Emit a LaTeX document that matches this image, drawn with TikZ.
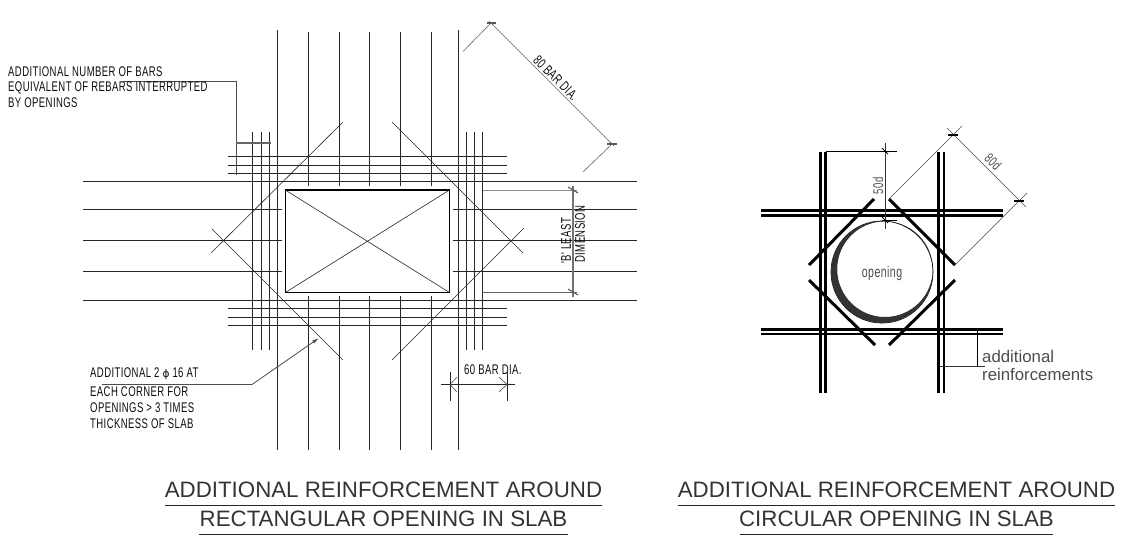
\documentclass[tikz,border=0pt]{standalone}
\usepackage{fontspec}
\setmainfont{Liberation Sans}
\newfontfamily\cadfont[FakeStretch=0.68,LetterSpace=3]{Liberation Sans}
\newfontfamily\ttlfont{Liberation Sans}
\usetikzlibrary{arrows.meta}
\tikzset{
  bar/.style={line width=1pt,draw=black!85},
  thin line/.style={line width=.6pt,draw=black!70},
  heavy/.style={line width=3pt,draw=black},
  heavy2/.style={line width=2.4pt,draw=black},
  dimline/.style={line width=.6pt,draw=black!60},
  tick/.style={line width=1.1pt,draw=black!65},
  cad/.style={inner sep=0pt,anchor=west,font=\cadfont\fontsize{14}{14}\selectfont,text=black!95},
  ttl/.style={inner sep=0pt,font=\ttlfont\fontsize{22.3}{22.3}\selectfont,text=black!80},
  rule/.style={line width=.8pt,draw=black!85},
}
\begin{document}
\begin{tikzpicture}[x=1pt,y=-1pt]
\useasboundingbox (0,0) rectangle (1127,542);
% main vertical bars
\foreach \x in {277,458} \draw[bar] (\x,30) -- (\x,450);
\foreach \x in {308,339,369,400,431} {
  \draw[bar] (\x,32) -- (\x,186);
  \draw[bar] (\x,296) -- (\x,450);
}
% additional vertical bars
\foreach \x in {252,261,269,466,474,482} \draw[bar] (\x,132) -- (\x,350);
% main horizontal bars
\foreach \y in {181.5,300.5} \draw[bar] (83,\y) -- (637,\y);
\foreach \y in {209.5,240,271} {
  \draw[bar] (83,\y) -- (281.5,\y);
  \draw[bar] (453,\y) -- (637,\y);
}
% additional horizontal bars
\foreach \y in {156.5,165,173,308.7,317,325} \draw[bar] (228,\y) -- (507,\y);
% opening
\draw[line width=1.2pt] (285.3,190) rectangle (449.5,292.5);
\draw[thin line,draw=black!85] (285.3,190) -- (449.5,292.5);
\draw[thin line,draw=black!85] (449.5,190) -- (285.3,292.5);
% corner diagonals
\draw[thin line,draw=black!85] (343,122) -- (211,253);
\draw[thin line,draw=black!85] (212,229) -- (343,360);
\draw[thin line,draw=black!85] (392,122) -- (523,253);
\draw[thin line,draw=black!85] (392,360) -- (524,228);
% top-left leader
\draw[thin line,line width=.8pt] (123,81) -- (236,81) -- (236,175);
\draw[bar,draw=black!60,line width=1.1pt] (236,143) -- (271,143);
\node[cad] (noteA1) at (8,72) {ADDITIONAL NUMBER OF BARS};
\node[cad] (noteA2) at (8,88) {EQUIVALENT OF REBARS INTERRUPTED};
\node[cad] (noteA3) at (8,103) {BY OPENINGS};
% 80 bar dia
\draw[dimline] (463,51.5) -- (491,23) -- (612,144) -- (583,172);
\draw[tick] (487,23) -- (496,23) (607,144) -- (617,144);
\draw[tick,line width=.7pt] (489,21) -- (493,25) (610,142) -- (614,146);
\node[cad,anchor=center,rotate=-45] (dimA) at (556,78) {80 BAR DIA.};
% B least dimension
\draw[line width=.9pt,draw=black!45] (483,190) -- (577,190);
\draw[line width=.8pt,draw=black!60] (482,292) -- (577,292);
\draw[line width=1.1pt,draw=black!55] (573,186) -- (573,297);
\draw[tick] (568,187) -- (578,193) (568,289) -- (578,295);
\node[cad,anchor=center,rotate=90] (dimB1) at (566,241) {'B' LEAST};
\node[cad,anchor=center,rotate=90] (dimB2) at (580,234) {DIMENSION};
% 60 bar dia
\draw[bar,line width=.8pt] (441,384.5) -- (515,384.5);
\draw[bar] (450,372) -- (450,401) (507,372) -- (507,401);
\draw[thin line] (457,377) -- (450,384.5) -- (457,392);
\draw[thin line] (499,377) -- (507,384.5) -- (499,392);
\node[cad] (dimC) at (464,370) {60 BAR DIA.};
% lower leader
\draw[thin line,line width=.8pt,-{Latex[length=7pt,width=3.5pt]}] (102,384.5) -- (252,384.5) -- (319,338);
\node[cad] (noteB1) at (90,374) {ADDITIONAL 2 {\fontspec{DejaVu Sans}\fontsize{10.5}{10.5}\selectfont ϕ} 16 AT};
\node[cad] (noteB2) at (90,392) {EACH CORNER FOR};
\node[cad] (noteB3) at (90,408) {OPENINGS > 3 TIMES};
\node[cad] (noteB4) at (90,424) {THICKNESS OF SLAB};
% titles
\node[ttl] (t1a) at (383.5,490) {ADDITIONAL REINFORCEMENT AROUND};
\draw[rule] (165,505) -- (602,505);
\node[ttl] (t1b) at (383.5,518.5) {RECTANGULAR OPENING IN SLAB};
\draw[rule] (199,534) -- (568,534);
\node[ttl] (t2a) at (896.5,490) {ADDITIONAL REINFORCEMENT AROUND};
\draw[rule] (678,505) -- (1115,505);
\node[ttl] (t2b) at (896.5,518.5) {CIRCULAR OPENING IN SLAB};
\draw[rule] (740,534) -- (1053,534);
% ---- circular opening
\foreach \x in {820,938} \draw[heavy] (\x,152) -- (\x,393);
\foreach \x in {825.5,944} \draw[heavy2] (\x,152) -- (\x,393);
\foreach \y in {210,329} \draw[heavy] (761,\y) -- (1003,\y);
\foreach \y in {215.3,334} \draw[heavy2] (761,\y) -- (1003,\y);
\draw[heavy] (874,199) -- (809,265);
\draw[heavy] (889,199) -- (955,265);
\draw[heavy] (809,280) -- (875,345);
\draw[heavy] (955,280) -- (889,345);
% circle
\fill[white] (882,272) circle (51);
\draw[line width=.7pt] (882,272) circle (51);
\fill[black!80,even odd rule] (882,272) circle (51) (885,269.2) circle (47.8);
\node[cad,anchor=center,font=\cadfont\fontsize{15.5}{15.5}\selectfont,text=black!70] (open) at (882,273) {opening};
% 50d
\draw[line width=.8pt] (826,151) -- (897,151);
\draw[line width=.6pt,draw=black!80] (885,143) -- (885,229);
\draw[line width=1pt] (882,148) -- (888,154);
\draw[line width=1pt] (882,217) -- (888,223);
\draw[line width=.7pt] (882,220.5) -- (897,220.5);
\node[cad,anchor=center,rotate=90,font=\cadfont\fontsize{14}{14}\selectfont,text=black!70] (d50) at (878,186) {50d};
% 80d
\draw[thin line] (889,199) -- (962,126);
\draw[thin line] (955,265) -- (1027,193);
\draw[thin line] (947,128) -- (1026,207);
\draw[tick,draw=black] (948,135) -- (958,135) (1014,201) -- (1024,201);
\node[cad,anchor=center,rotate=-45,font=\cadfont\fontsize{14}{14}\selectfont,text=black!70] (d80) at (993,162) {80d};
% additional reinforcements
\draw[line width=.7pt] (977,329) -- (977,366);
\draw[line width=1pt,draw=black!80] (940,366) -- (985,366);
\node[inner sep=0pt,anchor=west,font=\fontsize{16.8}{16.8}\selectfont,text=black!70] (addA) at (982,356) {additional};
\node[inner sep=0pt,anchor=west,font=\fontsize{16.8}{16.8}\selectfont,text=black!70] (addB) at (982,374) {reinforcements};
\end{tikzpicture}
\end{document}
